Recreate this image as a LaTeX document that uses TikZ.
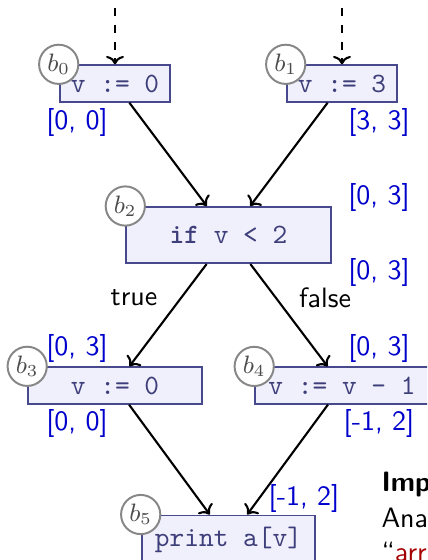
\documentclass[tikz,border=0pt]{standalone}
\usepackage{xcolor}
\usetikzlibrary{arrows.meta}
\renewcommand{\familydefault}{\sfdefault}
\definecolor{boxline}{RGB}{72,72,140}
\definecolor{boxfill}{RGB}{240,240,252}
\definecolor{boxtext}{RGB}{62,62,122}
\definecolor{taggray}{RGB}{135,135,135}
\definecolor{valblue}{RGB}{0,0,205}
\definecolor{myred}{RGB}{165,0,0}

\begin{document}
\begin{tikzpicture}[x=0.357pt, y=-0.357pt,
  block/.style={draw=boxline, fill=boxfill, text=boxtext, line width=0.7pt, font=\ttfamily, inner xsep=4pt},
  wideblock/.style={block, minimum width=62pt},
  tag/.style={circle, draw=taggray, fill=white, line width=0.7pt, text=black!70, font=\small, minimum size=14pt, inner sep=0pt},
  val/.style={text=valblue},
  flow/.style={-{To[length=3pt,width=6.4pt]}, line width=0.75pt}]

\useasboundingbox (0,0) rectangle (427,560);
\clip (0,0) rectangle (427,560);

% blocks
\node[block] (b0) at (115,83.5) {v := 0};
\node[block] (b1) at (342,83.5) {v := 3};
\node[block, minimum width=73pt, minimum height=20pt] (b2) at (228.5,235) {{\bfseries if} v < 2};
\node[wideblock] (b3) at (115,385.5) {v := 0};
\node[wideblock] (b4) at (342,385.5) {v := v - 1};
\node[wideblock, minimum height=17.5pt] (b5) at (228.5,540) {\raisebox{0.6pt}{print a[v]}};

% entry edges
\coordinate (in0) at (115,8);
\coordinate (in1) at (342,8);
\draw[flow, dashed] (in0) -- (b0);
\draw[flow, dashed] (in1) -- (b1);

\draw[flow] (b0) -- (b2);
\draw[flow] (b1) -- (b2);
\draw[flow] (b2) -- (b3);
\draw[flow] (b2) -- (b4);
\draw[flow] (b3) -- (b5);
\draw[flow] (b4) -- (b5);

\node (true) at (134,298) {true};
\node (false) at (325,298) {false};

% block tags
\node[tag] (t0) at (b0.north west) {$b_0$};
\node[tag] (t1) at (b1.north west) {$b_1$};
\node[tag] (t2) at (b2.north west) {$b_2$};
\node[tag] (t3) at (b3.north west) {$b_3$};
\node[tag] (t4) at (b4.north west) {$b_4$};
\node[tag] (t5) at (b5.north west) {$b_5$};

% intervals
\node[val] (v0out) at (77,122) {[0, 0]};
\node[val] (v1out) at (379,122) {[3, 3]};
\node[val] (v2in) at (379,197) {[0, 3]};
\node[val] (v2out) at (379,272) {[0, 3]};
\node[val] (v3in) at (77,348) {[0, 3]};
\node[val] (v3out) at (77,423) {[0, 0]};
\node[val] (v4in) at (379,348) {[0, 3]};
\node[val] (v4out) at (379,423) {[-1, 2]};
\node[val] (v5in) at (304,498) {[-1, 2]};

% side text
\node[anchor=base west, inner sep=0pt, font=\bfseries] (note1) at (381,491.5) {Imp};
\node[anchor=base west, inner sep=0pt] (note2) at (381,527) {Ana};
\node[anchor=base west, inner sep=0pt] (note3) at (381,561) {\textquotedblleft\textcolor{myred}{arr}};
\end{tikzpicture}
\end{document}
